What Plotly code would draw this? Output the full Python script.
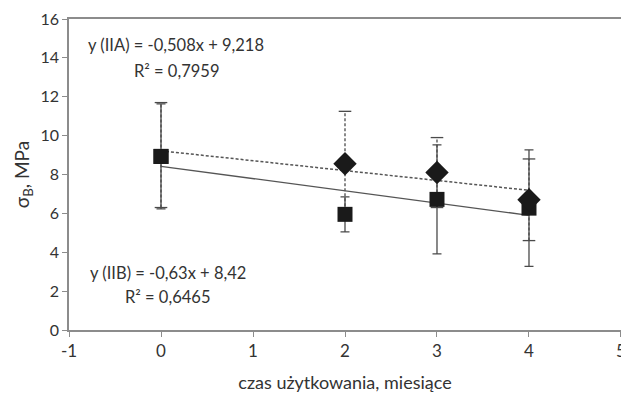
import plotly.graph_objects as go

# Data
months = [0, 2, 3, 4]
iia_values = [9.0, 8.55, 8.1, 6.7]
iia_errors = [2.7, 2.7, 1.8, 2.1]
iib_values = [8.93, 5.95, 6.72, 6.27]
iib_errors = [2.7, 0.9, 2.8, 3.0]

iia_slope, iia_intercept, iia_r2 = -0.508, 9.218, "0,7959"
iib_slope, iib_intercept, iib_r2 = -0.63, 8.42, "0,6465"
trend_x = [0, 4]

x_ticks = [-1, 0, 1, 2, 3, 4, 5]
x_tick_labels = ["-1", "0", "1", "2", "3", "4", "5"]
y_ticks = [0, 2, 4, 6, 8, 10, 12, 14, 16]

FONT = "Lato, 'Open Sans', sans-serif"
AX = "#8c8c8c"
ERR = "#4a4a4a"
MK = "#1a1a1a"
TXT = "#333333"

fig = go.Figure()

# IIA dashed error bars (vertical dashed segment + caps)
ex, ey, cx, cy = [], [], [], []
for x, v, e in zip(months, iia_values, iia_errors):
    ex += [x, x, None]
    ey += [v - e, v + e, None]
    cx += [x, x]
    cy += [v - e, v + e]
fig.add_trace(go.Scatter(x=ex, y=ey, mode="lines",
                         line=dict(color=ERR, width=1.3, dash="3px,2px"),
                         showlegend=False, hoverinfo="skip"))
fig.add_trace(go.Scatter(x=cx, y=cy, mode="markers",
                         marker=dict(symbol="line-ew-open", size=9, color=ERR,
                                     line=dict(color=ERR, width=1.3)),
                         showlegend=False, hoverinfo="skip"))

# trend lines
fig.add_trace(go.Scatter(x=trend_x, y=[iia_intercept + iia_slope * t for t in trend_x],
                         mode="lines", line=dict(color="#555555", width=1.5, dash="3px,2px"),
                         showlegend=False))
fig.add_trace(go.Scatter(x=trend_x, y=[iib_intercept + iib_slope * t for t in trend_x],
                         mode="lines", line=dict(color="#555555", width=1.3),
                         showlegend=False))

# IIB squares with solid error bars
fig.add_trace(go.Scatter(x=months, y=iib_values, mode="markers",
                         marker=dict(symbol="square", size=15, color=MK),
                         error_y=dict(type="data", array=iib_errors, visible=True,
                                      color=ERR, thickness=1.3, width=4.5),
                         name="IIB", showlegend=False))
# IIA diamonds
fig.add_trace(go.Scatter(x=months[1:], y=iia_values[1:], mode="markers",
                         marker=dict(symbol="diamond", size=18, color=MK),
                         name="IIA", showlegend=False))
fig.add_trace(go.Scatter(x=months[:1], y=iib_values[:1], mode="markers",
                         marker=dict(symbol="square", size=15, color=MK),
                         showlegend=False, hoverinfo="skip"))

def fmt(v):
    return str(v).replace(".", ",")

annots = [
    dict(x=0.031, y=0.916, text=f"y (IIA) = {fmt(iia_slope)}x + {fmt(iia_intercept)}"),
    dict(x=0.114, y=0.833, text=f"R² = {iia_r2}"),
    dict(x=0.034, y=0.183, text=f"y (IIB) = {fmt(iib_slope)}x + {fmt(iib_intercept)}"),
    dict(x=0.098, y=0.106, text=f"R² = {iib_r2}"),
]
for a in annots:
    fig.add_annotation(xref="paper", yref="paper", x=a["x"], y=a["y"], text=a["text"],
                       showarrow=False, xanchor="left", yanchor="middle",
                       font=dict(family=FONT, size=16.5, color=TXT))

fig.update_layout(
    width=629, height=403,
    margin=dict(l=61, r=16, t=11, b=81, autoexpand=False),
    paper_bgcolor="white", plot_bgcolor="white",
    font=dict(family=FONT, size=16, color=TXT),
)
fig.update_xaxes(range=[-1, 5.0001], tickvals=x_ticks, ticktext=x_tick_labels,
                 showgrid=False, zeroline=False, automargin=False,
                 showline=True, linecolor=AX, linewidth=1.5, mirror=True,
                 ticks="outside", ticklen=5, tickcolor=AX,
                 tickfont=dict(family=FONT, size=17, color=TXT),
                 title=dict(text="czas użytkowania, miesiące", standoff=16,
                            font=dict(family=FONT, size=18, color=TXT)))
fig.update_yaxes(range=[0, 16.0001], tickvals=y_ticks, showgrid=False, zeroline=False,
                 automargin=False,
                 showline=True, linecolor=AX, linewidth=1.5, mirror=True,
                 ticks="outside", ticklen=5, tickcolor=AX,
                 tickfont=dict(family=FONT, size=16, color=TXT),
                 title=dict(text="σ<sub>B</sub>, MPa", standoff=6,
                            font=dict(family=FONT, size=19, color=TXT)))

fig.write_html("out.html")
